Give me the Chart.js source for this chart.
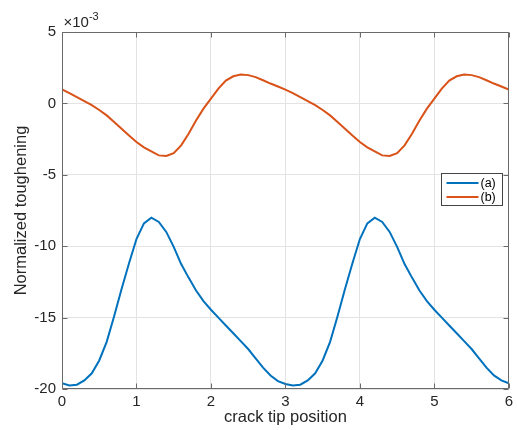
<!DOCTYPE html>
<html>
<head>
<meta charset="utf-8">
<script src="https://cdn.jsdelivr.net/npm/chart.js@4"></script>
<style>
  html, body { margin: 0; padding: 0; background: #fff; }
  canvas { display: block; }
</style>
</head>
<body>
<canvas id="toughening" width="517" height="430"></canvas>
<script>
// crack tip position (x)
const positions = [
  0.0, 0.1, 0.2, 0.3, 0.4, 0.5, 0.6, 0.7, 0.8, 0.9,
  1.0, 1.1, 1.2, 1.3, 1.4, 1.5, 1.6, 1.7, 1.8, 1.9,
  2.0, 2.1, 2.2, 2.3, 2.4, 2.5, 2.6, 2.7, 2.8, 2.9,
  3.0, 3.1, 3.2, 3.3, 3.4, 3.5, 3.6, 3.7, 3.8, 3.9,
  4.0, 4.1, 4.2, 4.3, 4.4, 4.5, 4.6, 4.7, 4.8, 4.9,
  5.0, 5.1, 5.2, 5.3, 5.4, 5.5, 5.6, 5.7, 5.8, 5.9,
  6.0
];

// normalized toughening, x 10^-3
const seriesA = [
  -19.6, -19.75, -19.7, -19.4, -18.9, -18.0, -16.7, -14.9, -13.0, -11.2,
  -9.5, -8.4, -8.0, -8.3, -9.0, -10.05, -11.25, -12.2, -13.1, -13.85,
  -14.45, -15.0, -15.55, -16.1, -16.65, -17.2, -17.85, -18.5, -19.05, -19.45,
  -19.65, -19.75, -19.7, -19.4, -18.9, -18.0, -16.7, -14.9, -13.0, -11.2,
  -9.5, -8.4, -8.0, -8.3, -9.0, -10.05, -11.25, -12.2, -13.1, -13.85,
  -14.45, -15.0, -15.55, -16.1, -16.65, -17.2, -17.85, -18.5, -19.05, -19.4,
  -19.6
];

const seriesB = [
  0.98, 0.72, 0.44, 0.16, -0.12, -0.46, -0.84, -1.3, -1.77, -2.25,
  -2.7, -3.08, -3.36, -3.64, -3.68, -3.48, -2.94, -2.12, -1.19, -0.37,
  0.33, 1.03, 1.6, 1.9, 2.03, 1.98, 1.84, 1.62, 1.39, 1.18,
  0.97, 0.72, 0.44, 0.16, -0.12, -0.46, -0.84, -1.3, -1.77, -2.25,
  -2.7, -3.08, -3.36, -3.64, -3.68, -3.48, -2.94, -2.12, -1.19, -0.37,
  0.33, 1.03, 1.6, 1.9, 2.03, 1.98, 1.84, 1.62, 1.39, 1.18,
  0.97
];

const seriesLabels = ["(a)", "(b)"];
const xTicks = [0, 1, 2, 3, 4, 5, 6];
const yTicks = [-20, -15, -10, -5, 0, 5];

const blue = "#0072bd";
const orange = "#d95319";
const axisGray = "#262626";
const boxGray = "#6a6a6a";
const fontFamily = "'Liberation Sans', Arial, Helvetica, sans-serif";

function toPoints(values) {
  return positions.map(function (x, i) { return { x: x, y: values[i] }; });
}

// box, inward ticks, exponent label and matlab style legend
const matlabAxes = {
  id: "matlabAxes",
  afterDraw: function (chart) {
    const ctx = chart.ctx;
    const area = chart.chartArea;
    const xs = chart.scales.x;
    const ys = chart.scales.y;
    const L = Math.round(area.left) + 0.5;
    const R = Math.round(area.right) - 0.5;
    const T = Math.round(area.top) + 0.5;
    const B = Math.round(area.bottom) - 0.5;
    const tick = 5;

    ctx.save();
    ctx.strokeStyle = boxGray;
    ctx.lineWidth = 1;
    ctx.beginPath();
    ctx.rect(L, T, R - L, B - T);
    xTicks.forEach(function (v) {
      const px = Math.round(xs.getPixelForValue(v)) + 0.5;
      ctx.moveTo(px, B); ctx.lineTo(px, B - tick);
      ctx.moveTo(px, T); ctx.lineTo(px, T + tick);
    });
    yTicks.forEach(function (v) {
      const py = Math.round(ys.getPixelForValue(v)) + 0.5;
      ctx.moveTo(L, py); ctx.lineTo(L + tick, py);
      ctx.moveTo(R, py); ctx.lineTo(R - tick, py);
    });
    ctx.stroke();

    // x 10^-3
    ctx.fillStyle = axisGray;
    ctx.textBaseline = "alphabetic";
    ctx.textAlign = "left";
    ctx.font = "15px " + fontFamily;
    ctx.fillText("\u00d710", L + 1, 27);
    const w = ctx.measureText("\u00d710").width;
    ctx.font = "11px " + fontFamily;
    ctx.fillText("-3", L + 1 + w, 20);

    // legend
    const lx = 441.5, ly = 173.5, lw = 61, lh = 32;
    ctx.fillStyle = "#fff";
    ctx.fillRect(lx, ly, lw, lh);
    ctx.strokeStyle = "#444";
    ctx.strokeRect(lx, ly, lw, lh);
    ctx.font = "12.5px " + fontFamily;
    ctx.textBaseline = "middle";
    chart.data.datasets.forEach(function (ds, i) {
      const yy = ly + 9.5 + i * 14;
      ctx.strokeStyle = ds.borderColor;
      ctx.lineWidth = 2;
      ctx.beginPath();
      ctx.moveTo(lx + 5, yy);
      ctx.lineTo(lx + 37, yy);
      ctx.stroke();
      ctx.fillStyle = "#000";
      ctx.fillText(ds.label, lx + 39, yy + 0.5);
    });
    ctx.restore();
  }
};

new Chart(document.getElementById("toughening").getContext("2d"), {
  type: "line",
  data: {
    datasets: [
      {
        label: seriesLabels[0],
        data: toPoints(seriesA),
        borderColor: blue,
        borderWidth: 2,
        pointRadius: 0,
        tension: 0,
        fill: false,
      },
      {
        label: seriesLabels[1],
        data: toPoints(seriesB),
        borderColor: orange,
        borderWidth: 2,
        pointRadius: 0,
        tension: 0,
        fill: false,
      },
    ],
  },
  options: {
    responsive: false,
    animation: false,
    devicePixelRatio: 1,
    layout: {
      padding: { top: 32, right: 5, left: 0, bottom: 0 },
    },
    plugins: {
      legend: { display: false },
      tooltip: { enabled: false },
    },
    scales: {
      x: {
        type: "linear",
        min: 0,
        max: 6,
        afterBuildTicks: function (scale) {
          scale.ticks = xTicks.map(function (v) { return { value: v }; });
        },
        afterFit: function (scale) { scale.height = 41; },
        ticks: {
          color: axisGray,
          font: { family: fontFamily, size: 15 },
          padding: 4,
          maxRotation: 0,
        },
        grid: { color: "#e3e3e3", drawTicks: false },
        border: { display: false },
        title: {
          display: true,
          text: "crack tip position",
          color: axisGray,
          font: { family: fontFamily, size: 16.5 },
          padding: { top: 0, bottom: 3 },
        },
      },
      y: {
        min: -20,
        max: 5,
        afterBuildTicks: function (scale) {
          scale.ticks = yTicks.map(function (v) { return { value: v }; });
        },
        afterFit: function (scale) { scale.width = 62; },
        ticks: {
          color: axisGray,
          font: { family: fontFamily, size: 15 },
          padding: 6,
        },
        grid: { color: "#e3e3e3", drawTicks: false },
        border: { display: false },
        title: {
          display: true,
          text: "Normalized toughening",
          color: axisGray,
          font: { family: fontFamily, size: 16.5 },
          padding: { top: 12, bottom: 0 },
        },
      },
    },
  },
  plugins: [matlabAxes],
});
</script>
</body>
</html>
